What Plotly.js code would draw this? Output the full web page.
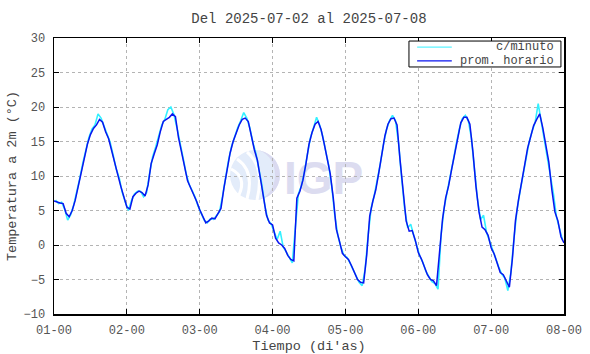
<!DOCTYPE html>
<html>
<head>
<meta charset="utf-8">
<script src="https://cdn.plot.ly/plotly-3.0.1.min.js"></script>
<style>html,body{margin:0;padding:0;background:#fff}#chart{width:590px;height:354px}</style>
</head>
<body>
<div id="chart"></div>
<script>
// hours since 2025-07-02 00:00 (hourly average)
const hourlyTemp = [
 6.4, 6.2, 6.1, 6.0, 4.6, 4.1, 5.0, 6.5, 8.5, 10.8, 12.8, 14.6, 16.0, 16.9, 17.4, 18.2, 17.8, 16.4, 15.4, 13.8, 12.2, 10.2, 8.5, 7.0,
 5.5, 5.2, 7.0, 7.5, 7.8, 7.6, 7.1, 8.7, 11.8, 13.2, 14.5, 16.4, 17.9, 18.2, 18.5, 19.0, 18.6, 15.6, 13.4, 11.5, 9.3, 8.3, 7.4, 6.3,
 5.1, 4.2, 3.2, 3.5, 3.9, 3.8, 4.6, 5.3, 8.3, 11.0, 13.3, 15.0, 16.3, 17.4, 18.2, 18.4, 17.9, 15.8, 13.8, 12.3, 9.8, 7.3, 4.3, 3.2,
 2.9, 1.0, 0.3, 0.0, -0.5, -1.5, -2.1, -2.3, 6.8, 7.8, 9.4, 11.8, 14.6, 16.3, 17.5, 17.9, 16.7, 14.7, 12.5, 10.3, 6.8, 2.3, 0.6, -1.2,
 -1.7, -2.1, -3.0, -4.1, -5.0, -5.4, -5.5, -1.5, 4.2, 6.3, 8.0, 10.5, 13.2, 15.8, 17.5, 18.3, 18.4, 17.4, 12.3, 7.4, 3.5, 2.0, 2.1, 0.7,
 -1.1, -2.0, -3.1, -4.3, -5.0, -5.2, -5.9, -1.0, 3.8, 6.8, 8.6, 11.0, 13.3, 15.8, 17.7, 18.5, 18.5, 17.5, 13.5, 8.5, 4.8, 2.6, 2.2, 1.4,
 -0.4, -1.3, -2.5, -4.0, -4.3, -5.2, -6.1, -2.0, 3.5, 6.5, 8.8, 11.5, 14.0, 15.7, 17.3, 18.2, 19.0, 17.0, 14.3, 12.0, 8.0, 4.8, 3.5, 1.2,
 0.3
];
const hourlyHours = hourlyTemp.map((v, i) => i);

// per-minute series, read at half-hour positions (incl. visible spikes)
const minuteTemp = [
 6.5, 6.0, 6.2, 5.2, 3.6, 4.4, 5.8, 7.6, 9.7, 11.9, 13.9, 15.6, 16.8, 17.4, 19.0, 18.4, 17.2, 16.0, 14.9, 13.0, 11.0, 9.7, 7.6, 6.2,
 5.0, 6.4, 7.4, 7.8, 7.8, 7.0, 7.6, 10.4, 12.8, 14.2, 15.9, 17.4, 18.2, 19.6, 20.0, 18.9, 17.0, 14.6, 12.7, 10.4, 8.8, 7.9, 6.9, 5.6,
 4.7, 3.6, 3.2, 3.8, 3.7, 4.3, 4.8, 7.0, 9.8, 12.3, 14.3, 15.7, 17.0, 18.0, 19.2, 18.4, 17.0, 14.9, 13.3, 11.0, 8.7, 5.6, 3.6, 3.1,
 2.0, 0.8, 2.0, -0.3, -1.0, -1.9, -2.6, 2.5, 7.4, 8.6, 10.6, 13.2, 15.6, 17.0, 18.5, 17.4, 15.8, 13.6, 11.5, 8.5, 4.3, 1.4, -0.3, -1.5,
 -1.8, -2.6, -3.6, -4.6, -5.4, -5.9, -3.5, 1.5, 5.4, 7.2, 9.3, 11.8, 14.5, 16.7, 18.0, 18.8, 18.0, 14.8, 9.8, 5.3, 2.5, 3.0, 1.4, -0.2,
 -1.6, -2.5, -3.8, -4.6, -5.3, -5.6, -6.4, 1.4, 5.3, 7.7, 9.8, 12.2, 14.6, 16.8, 18.3, 18.8, 18.0, 15.5, 11.0, 6.6, 3.7, 4.3, 1.8, 0.5,
 -0.8, -1.9, -3.2, -4.2, -4.8, -6.6, -4.0, 0.8, 5.0, 7.7, 10.1, 12.8, 14.9, 16.5, 17.8, 20.5, 18.0, 15.6, 13.1, 10.0, 7.5, 4.1, 2.3, 0.7
];
const minuteHours = minuteTemp.map((v, i) => i + 0.5);

const dayTickVals = [0, 24, 48, 72, 96, 120, 144, 168];
const dayTickText = ['01-00', '02-00', '03-00', '04-00', '05-00', '06-00', '07-00', '08-00'];

const titleText = 'Del 2025-07-02 al 2025-07-08';
const xTitle = "Tiempo (di'as)";
const yTitle = 'Temperatura a 2m (°C)';
const nameMinute = 'c/minuto';
const nameHourly = 'prom. horario';
const colorMinute = '#33f0ff';
const colorHourly = '#0a14f0';

const mono = '"Liberation Mono", "DejaVu Sans Mono", monospace';

const wm = "<svg xmlns='http://www.w3.org/2000/svg' width='140' height='60' viewBox='0 0 140 60'>" +
  "<circle cx='30' cy='30' r='25' fill='#e3ecfa'/>" +
  "<path d='M30 5 A25 25 0 0 1 30 55 A20 25 0 0 0 30 5 Z' fill='#dadaf0'/>" +
  "<path d='M12 14 Q30 26 22 54' stroke='#fff' stroke-width='3' fill='none'/>" +
  "<path d='M6 24 Q22 32 14 50' stroke='#fff' stroke-width='3' fill='none'/>" +
  "<path d='M22 7 Q40 22 32 55' stroke='#fff' stroke-width='3' fill='none'/>" +
  "<text x='59' y='49' font-family='Liberation Sans, Arial, sans-serif' font-weight='bold' font-size='46' fill='#dcdcf0'>IGP</text>" +
  "</svg>";

const traces = [
  {x: minuteHours, y: minuteTemp, type: 'scatter', mode: 'lines', name: nameMinute,
   line: {color: colorMinute, width: 1.6}, hoverinfo: 'skip', showlegend: false},
  {x: hourlyHours, y: hourlyTemp, type: 'scatter', mode: 'lines', name: nameHourly,
   line: {color: colorHourly, width: 1.5}, hoverinfo: 'skip', showlegend: false}
];

const axisCommon = {
  showline: true, linecolor: '#000', linewidth: 1.5, mirror: 'ticks',
  ticks: 'inside', ticklen: 5, tickcolor: '#000', tickwidth: 1,
  showgrid: true, gridcolor: '#b4b4b4', griddash: 'dot', gridwidth: 1,
  zeroline: false, tickfont: {family: mono, size: 12, color: '#555'}
};

// legend box drawn in paper coordinates (right-aligned labels like the original)
const legendShapes = [
  {type: 'rect', xref: 'paper', yref: 'paper', x0: 0.696, x1: 0.994, y0: 0.895, y1: 0.989,
   line: {color: '#000', width: 1}, fillcolor: '#fff', layer: 'above'},
  {type: 'line', xref: 'paper', yref: 'paper', x0: 0.712, x1: 0.780, y0: 0.967, y1: 0.967,
   line: {color: colorMinute, width: 1}, layer: 'above'},
  {type: 'line', xref: 'paper', yref: 'paper', x0: 0.712, x1: 0.780, y0: 0.917, y1: 0.917,
   line: {color: colorHourly, width: 1.3}, layer: 'above'}
];
const legendNotes = [
  {xref: 'paper', yref: 'paper', x: 0.984, y: 0.967, xanchor: 'right', yanchor: 'middle',
   text: nameMinute, showarrow: false, font: {family: mono, size: 12, color: '#444'}},
  {xref: 'paper', yref: 'paper', x: 0.984, y: 0.917, xanchor: 'right', yanchor: 'middle',
   text: nameHourly, showarrow: false, font: {family: mono, size: 12, color: '#444'}}
];

const layout = {
  width: 590, height: 354,
  margin: {l: 54, r: 26, t: 38, b: 40},
  paper_bgcolor: '#fff', plot_bgcolor: 'rgba(0,0,0,0)',
  font: {family: mono, color: '#444'},
  title: {text: titleText, font: {family: mono, size: 14, color: '#444'},
          x: 0.5236, xref: 'container', xanchor: 'center', y: 0.95, yref: 'container', yanchor: 'middle'},
  xaxis: Object.assign({}, axisCommon, {
    range: [0, 168], tickvals: dayTickVals, ticktext: dayTickText, ticklabelstandoff: 4,
    title: {text: xTitle, font: {family: mono, size: 13.5, color: '#444'}, standoff: 6}
  }),
  yaxis: Object.assign({}, axisCommon, {
    range: [-10, 30], dtick: 5, tick0: -10, ticklabelstandoff: 5,
    title: {text: yTitle, font: {family: mono, size: 13.5, color: '#444'}, standoff: 4}
  }),
  showlegend: false,
  shapes: legendShapes,
  annotations: legendNotes,
  images: [{source: 'data:image/svg+xml;charset=utf-8,' + encodeURIComponent(wm),
            xref: 'paper', yref: 'paper', x: 0.3353, y: 0.6123, sizex: 0.2745, sizey: 0.2174,
            sizing: 'stretch', xanchor: 'left', yanchor: 'top', layer: 'below'}]
};

Plotly.newPlot('chart', traces, layout, {displayModeBar: false, staticPlot: true});
</script>
</body>
</html>
